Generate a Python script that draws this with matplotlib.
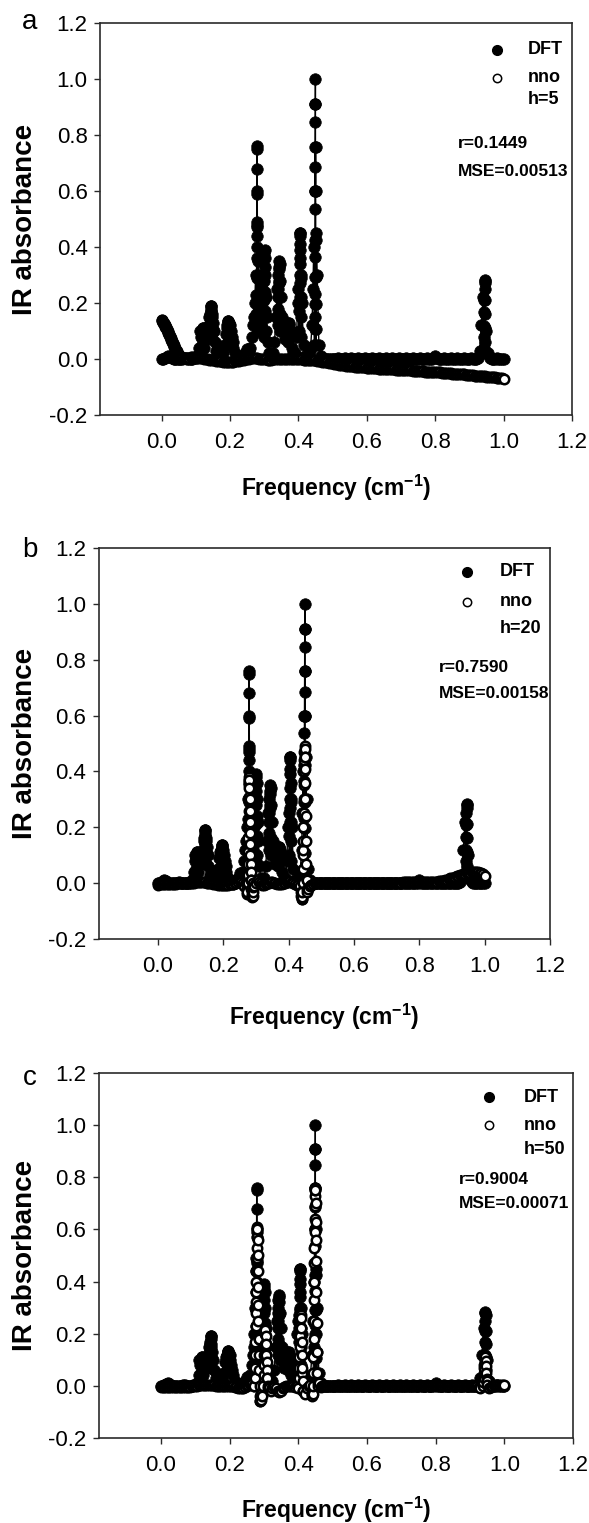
import numpy as np
import matplotlib
matplotlib.use("Agg")
import matplotlib.pyplot as plt
from matplotlib.lines import Line2D

plt.rcParams['font.family'] = ['Liberation Sans', 'DejaVu Sans']
plt.rcParams['mathtext.fontset'] = 'custom'
plt.rcParams['mathtext.rm'] = 'Liberation Sans'
plt.rcParams['mathtext.bf'] = 'Liberation Sans:bold'

# ---------------- data ----------------
freq_grid = [
    0.000, 0.005, 0.010, 0.015, 0.020, 0.025, 0.030, 0.035, 0.040, 0.045,
    0.050, 0.055, 0.060, 0.065, 0.070, 0.075, 0.080, 0.085, 0.090, 0.095,
    0.100, 0.105, 0.110, 0.115, 0.120, 0.125, 0.130, 0.135, 0.140, 0.145,
    0.150, 0.155, 0.160, 0.165, 0.170, 0.175, 0.180, 0.185, 0.190, 0.195,
    0.200, 0.205, 0.210, 0.215, 0.220, 0.225, 0.230, 0.235, 0.240, 0.245,
    0.250, 0.255, 0.260, 0.265, 0.270, 0.275, 0.280, 0.285, 0.290, 0.295,
    0.300, 0.305, 0.310, 0.315, 0.320, 0.325, 0.330, 0.335, 0.340, 0.345,
    0.350, 0.355, 0.360, 0.365, 0.370, 0.375, 0.380, 0.385, 0.390, 0.395,
    0.400, 0.405, 0.410, 0.415, 0.420, 0.425, 0.430, 0.435, 0.440, 0.445,
    0.450, 0.455, 0.460, 0.465, 0.470, 0.475, 0.480, 0.485, 0.490, 0.495,
    0.500, 0.505, 0.510, 0.515, 0.520, 0.525, 0.530, 0.535, 0.540, 0.545,
    0.550, 0.555, 0.560, 0.565, 0.570, 0.575, 0.580, 0.585, 0.590, 0.595,
    0.600, 0.605, 0.610, 0.615, 0.620, 0.625, 0.630, 0.635, 0.640, 0.645,
    0.650, 0.655, 0.660, 0.665, 0.670, 0.675, 0.680, 0.685, 0.690, 0.695,
    0.700, 0.705, 0.710, 0.715, 0.720, 0.725, 0.730, 0.735, 0.740, 0.745,
    0.750, 0.755, 0.760, 0.765, 0.770, 0.775, 0.780, 0.785, 0.790, 0.795,
    0.800, 0.805, 0.810, 0.815, 0.820, 0.825, 0.830, 0.835, 0.840, 0.845,
    0.850, 0.855, 0.860, 0.865, 0.870, 0.875, 0.880, 0.885, 0.890, 0.895,
    0.900, 0.905, 0.910, 0.915, 0.920, 0.925, 0.930, 0.935, 0.940, 0.945,
    0.950, 0.955, 0.960, 0.965, 0.970, 0.975, 0.980, 0.985, 0.990, 0.995,
    1.000,
]

dft_grid = [
    0.000, 0.000, 0.002, 0.006, 0.010, 0.006, 0.002, 0.000, 0.000, 0.000,
    0.000, 0.000, 0.001, 0.004, 0.002, 0.000, 0.000, 0.000, 0.001, 0.002,
    0.004, 0.010, 0.040, 0.080, 0.110, 0.100, 0.070, 0.090, 0.150, 0.190,
    0.130, 0.060, 0.030, 0.040, 0.045, 0.030, 0.020, 0.050, 0.110, 0.135,
    0.120, 0.080, 0.040, 0.020, 0.010, 0.000, -0.003, 0.002, 0.010, 0.020,
    0.035, 0.030, 0.040, 0.080, 0.150, 0.300, 0.480, 0.300, 0.120, 0.200,
    0.380, 0.220, 0.060, 0.020, 0.005, 0.020, 0.060, 0.150, 0.300, 0.340,
    0.220, 0.100, 0.070, 0.100, 0.130, 0.100, 0.040, 0.020, 0.020, 0.080,
    0.250, 0.450, 0.200, 0.050, 0.010, 0.000, 0.010, 0.030, 0.120, 0.400,
    0.600, 0.300, 0.050, 0.010, 0.002, 0.001, 0.000, 0.000, 0.000, 0.000,
    0.000, 0.001, 0.000, 0.002, 0.000, 0.001, 0.000, 0.002, 0.000, 0.001,
    0.000, 0.002, 0.000, 0.001, 0.000, 0.002, 0.000, 0.001, 0.000, 0.002,
    0.000, 0.001, 0.000, 0.002, 0.000, 0.001, 0.000, 0.002, 0.000, 0.001,
    0.000, 0.002, 0.000, 0.001, 0.000, 0.002, 0.000, 0.001, 0.000, 0.002,
    0.000, 0.001, 0.000, 0.002, 0.000, 0.001, 0.000, 0.002, 0.000, 0.001,
    0.000, 0.002, 0.000, 0.001, 0.000, 0.002, 0.000, 0.001, 0.000, 0.002,
    0.010, 0.002, 0.000, 0.001, 0.000, 0.002, 0.000, 0.001, 0.000, 0.002,
    0.000, 0.001, 0.000, 0.002, 0.000, 0.001, 0.000, 0.002, 0.000, 0.001,
    0.000, 0.002, 0.000, 0.001, 0.000, 0.005, 0.030, 0.120, 0.220, 0.280,
    0.100, 0.020, 0.005, 0.000, 0.001, 0.000, 0.002, 0.000, 0.001, 0.000,
    0.000,
]

# narrow DFT peaks: extra samples read along each peak column
dft_peak_x = [
    0.1180, 0.1190, 0.1200, 0.1210, 0.1220, 0.1230,
    0.1430, 0.1437, 0.1443, 0.1450, 0.1455, 0.1462, 0.1468, 0.1475,
    0.1930, 0.1940, 0.1950, 0.1960, 0.1970, 0.1980,
    0.2768, 0.2772, 0.2776, 0.2779, 0.2782, 0.2785, 0.2788, 0.2790,
    0.2792, 0.2794, 0.2797, 0.2800, 0.2803, 0.2806, 0.2810, 0.2815,
    0.2990, 0.2995, 0.3000, 0.3005, 0.3010, 0.3015, 0.3020, 0.3025,
    0.3030, 0.3035, 0.3040,
    0.3400, 0.3405, 0.3410, 0.3415, 0.3420, 0.3425, 0.3430, 0.3435,
    0.3440, 0.3445, 0.3450, 0.3460,
    0.3690, 0.3705, 0.3720, 0.3735, 0.3750,
    0.4025, 0.4029, 0.4033, 0.4037, 0.4041, 0.4045, 0.4049, 0.4052,
    0.4055, 0.4058, 0.4062, 0.4066, 0.4070, 0.4075, 0.4080,
    0.4470, 0.4472, 0.4474, 0.4476, 0.4478, 0.4480, 0.4482, 0.4484,
    0.4486, 0.4488, 0.4490, 0.4492, 0.4494, 0.4496, 0.4498,
    0.4500, 0.4502, 0.4504, 0.4506, 0.4508, 0.4510, 0.4512, 0.4515,
    0.9420, 0.9425, 0.9430, 0.9435, 0.9440, 0.9445, 0.9450,
    0.9453, 0.9456, 0.9460, 0.9464, 0.9468, 0.9472,
]
dft_peak_y = [
    0.05, 0.08, 0.11, 0.10, 0.07, 0.04,
    0.10, 0.14, 0.17, 0.19, 0.18, 0.15, 0.11, 0.07,
    0.06, 0.10, 0.135, 0.13, 0.10, 0.07,
    0.16, 0.23, 0.29, 0.36, 0.44, 0.49, 0.59, 0.68,
    0.76, 0.75, 0.60, 0.47, 0.40, 0.29, 0.19, 0.10,
    0.08, 0.15, 0.21, 0.28, 0.33, 0.39, 0.36, 0.30,
    0.24, 0.17, 0.10,
    0.12, 0.18, 0.22, 0.25, 0.28, 0.33, 0.35, 0.32,
    0.27, 0.22, 0.16, 0.10,
    0.06, 0.10, 0.13, 0.12, 0.08,
    0.10, 0.17, 0.22, 0.27, 0.30, 0.34, 0.39, 0.41,
    0.45, 0.44, 0.36, 0.29, 0.22, 0.15, 0.08,
    0.05, 0.107, 0.149, 0.197, 0.233, 0.292, 0.364, 0.424,
    0.537, 0.600, 0.686, 0.758, 0.847, 0.910, 1.000,
    0.910, 0.758, 0.600, 0.424, 0.292, 0.197, 0.107, 0.050,
    0.04, 0.08, 0.119, 0.167, 0.209, 0.250, 0.283,
    0.270, 0.210, 0.160, 0.110, 0.060, 0.020,
]
# dense shoulders around the peak groups (solid black blocks in the figure)
dft_fill_x = [
    0.1125, 0.1175, 0.1225, 0.1275, 0.1325, 0.1375, 0.1425, 0.1475, 0.1525,
    0.1875, 0.1925, 0.1975, 0.2025, 0.2075,
    0.2675, 0.2725, 0.2825, 0.2875, 0.2925, 0.2975, 0.3075,
    0.3375, 0.3475, 0.3525, 0.3575, 0.3625, 0.3675, 0.3775,
    0.3975, 0.4075, 0.4425, 0.4525,
]
dft_fill_y = [
    0.10, 0.09, 0.09, 0.10, 0.11, 0.12, 0.16, 0.16, 0.10,
    0.09, 0.12, 0.12, 0.10, 0.06,
    0.12, 0.20, 0.35, 0.20, 0.25, 0.30, 0.15,
    0.25, 0.28, 0.15, 0.10, 0.10, 0.12, 0.10,
    0.20, 0.30, 0.25, 0.45,
]

# nno prediction, h = 5
nno_h5 = [
    0.140, 0.130, 0.120, 0.106, 0.092, 0.078, 0.064, 0.050, 0.036, 0.024,
    0.014, 0.008, 0.005, 0.004, 0.004, 0.004, 0.005, 0.006, 0.006, 0.006,
    0.006, 0.005, 0.004, 0.003, 0.002, 0.001, 0.000, -0.001, -0.002, -0.003,
    -0.004, -0.005, -0.006, -0.007, -0.008, -0.008, -0.009, -0.009, -0.010, -0.010,
    -0.010, -0.010, -0.009, -0.008, -0.007, -0.006, -0.004, -0.003, -0.002, -0.001,
    0.000, 0.001, 0.002, 0.002, 0.002, 0.002, 0.002, 0.001, 0.000, 0.000,
    0.000, -0.001, -0.002, -0.002, -0.002, -0.001, 0.000, 0.000, 0.000, 0.000,
    0.000, 0.000, 0.000, 0.000, -0.001, -0.001, -0.001, -0.001, -0.001, -0.001,
    -0.001, -0.001, -0.001, -0.002, -0.002, -0.003, -0.003, -0.004, -0.004, -0.005,
    -0.005, -0.006, -0.007, -0.008, -0.009, -0.010, -0.011, -0.012, -0.013, -0.015,
    -0.016, -0.017, -0.018, -0.019, -0.020, -0.021, -0.022, -0.023, -0.024, -0.024,
    -0.025, -0.026, -0.026, -0.027, -0.027, -0.028, -0.029, -0.029, -0.030, -0.030,
    -0.031, -0.031, -0.032, -0.032, -0.033, -0.033, -0.033, -0.034, -0.034, -0.035,
    -0.035, -0.035, -0.036, -0.036, -0.037, -0.037, -0.037, -0.038, -0.038, -0.039,
    -0.039, -0.039, -0.040, -0.040, -0.041, -0.041, -0.041, -0.042, -0.042, -0.043,
    -0.043, -0.043, -0.044, -0.044, -0.045, -0.045, -0.045, -0.046, -0.046, -0.047,
    -0.047, -0.047, -0.048, -0.048, -0.049, -0.049, -0.050, -0.050, -0.051, -0.051,
    -0.052, -0.052, -0.053, -0.053, -0.054, -0.054, -0.055, -0.055, -0.056, -0.056,
    -0.057, -0.057, -0.058, -0.059, -0.059, -0.060, -0.060, -0.061, -0.062, -0.062,
    -0.063, -0.064, -0.064, -0.065, -0.066, -0.066, -0.067, -0.068, -0.068, -0.069,
    -0.070,
]
# extra samples along the steep start of the h=5 curve
nno_h5_extra_x = [
    0.0012, 0.0025, 0.0037, 0.0063, 0.0075, 0.0087, 0.0112, 0.0125, 0.0137,
    0.0162, 0.0175, 0.0187, 0.0212, 0.0225, 0.0237, 0.0262, 0.0275, 0.0287,
    0.0312, 0.0325, 0.0337, 0.0362, 0.0375, 0.0387, 0.0412, 0.0425, 0.0437,
    0.0462, 0.0475, 0.0487, 0.0525, 0.0575,
]
nno_h5_extra_y = [
    0.138, 0.135, 0.133, 0.128, 0.125, 0.123, 0.116, 0.113, 0.110,
    0.102, 0.099, 0.095, 0.088, 0.085, 0.081, 0.074, 0.071, 0.067,
    0.060, 0.057, 0.053, 0.046, 0.043, 0.039, 0.033, 0.030, 0.027,
    0.021, 0.019, 0.016, 0.011, 0.006,
]

# nno prediction, h = 20
nno_h20 = [
    -0.005, -0.004, -0.003, -0.003, -0.002, -0.002, -0.002, -0.002, -0.002, -0.002,
    -0.002, -0.002, -0.001, -0.001, -0.001, -0.001, 0.000, 0.000, 0.000, 0.000,
    0.000, 0.001, 0.002, 0.003, 0.003, 0.004, 0.004, 0.004, 0.004, 0.003,
    0.002, 0.001, 0.000, -0.001, -0.002, -0.003, -0.004, -0.005, -0.006, -0.006,
    -0.007, -0.007, -0.006, -0.005, -0.004, -0.003, -0.002, 0.000, 0.002, 0.004,
    0.006, 0.004, 0.000, -0.010, 0.000, 0.000, 0.370, 0.010, -0.045, -0.010,
    0.000, 0.010, 0.005, 0.000, -0.005, -0.005, -0.003, 0.000, 0.002, 0.003,
    0.003, 0.002, 0.000, -0.002, -0.003, -0.003, -0.002, 0.000, 0.002, 0.004,
    0.005, 0.006, 0.004, 0.000, -0.003, -0.006, -0.008, -0.010, -0.055, 0.120,
    0.450, 0.010, -0.020, -0.010, -0.005, -0.002, 0.000, 0.001, 0.002, 0.002,
    0.002, 0.002, 0.002, 0.002, 0.002, 0.002, 0.002, 0.002, 0.002, 0.002,
    0.002, 0.002, 0.002, 0.002, 0.002, 0.002, 0.002, 0.002, 0.002, 0.002,
    0.002, 0.002, 0.002, 0.002, 0.002, 0.002, 0.002, 0.002, 0.002, 0.002,
    0.002, 0.002, 0.002, 0.002, 0.002, 0.002, 0.002, 0.002, 0.002, 0.002,
    0.002, 0.002, 0.002, 0.002, 0.002, 0.002, 0.002, 0.002, 0.002, 0.002,
    0.003, 0.003, 0.003, 0.003, 0.003, 0.003, 0.003, 0.003, 0.003, 0.003,
    0.003, 0.003, 0.003, 0.003, 0.003, 0.004, 0.004, 0.004, 0.004, 0.004,
    0.004, 0.005, 0.006, 0.007, 0.008, 0.009, 0.011, 0.013, 0.015, 0.017,
    0.018, 0.020, 0.022, 0.024, 0.026, 0.028, 0.030, 0.032, 0.034, 0.036,
    0.037, 0.038, 0.039, 0.040, 0.040, 0.040, 0.039, 0.038, 0.036, 0.033,
    0.025,
]
nno_h20_peak_x = [
    0.2710, 0.2720, 0.2730, 0.2740, 0.2750, 0.2755, 0.2760, 0.2765, 0.2770, 0.2775,
    0.2780, 0.2785, 0.2790, 0.2795, 0.2800, 0.2805, 0.2810, 0.2815, 0.2820, 0.2825,
    0.2830, 0.2835, 0.2840, 0.2845, 0.2850, 0.2860, 0.2870, 0.2880, 0.2890, 0.2900,
    0.2910, 0.2920,
    0.4380, 0.4390, 0.4400, 0.4410, 0.4420, 0.4430, 0.4440, 0.4445, 0.4450, 0.4455,
    0.4460, 0.4465, 0.4470, 0.4475, 0.4480, 0.4485, 0.4490, 0.4495, 0.4500, 0.4505,
    0.4510, 0.4515, 0.4520, 0.4530, 0.4540, 0.4550, 0.4560, 0.4570,
]
nno_h20_peak_y = [
    0.000, -0.020, -0.040, -0.030, 0.000, 0.030, 0.070, 0.110, 0.160, 0.210,
    0.260, 0.310, 0.350, 0.380, 0.370, 0.340, 0.300, 0.260, 0.220, 0.180,
    0.140, 0.100, 0.070, 0.040, 0.010, -0.020, -0.040, -0.050, -0.045, -0.030,
    -0.015, 0.000,
    -0.030, -0.045, -0.055, -0.050, -0.030, 0.000, 0.050, 0.100, 0.150, 0.200,
    0.250, 0.300, 0.350, 0.400, 0.440, 0.470, 0.490, 0.480, 0.450, 0.410,
    0.360, 0.300, 0.240, 0.150, 0.070, 0.010, -0.020, -0.030,
]

# nno prediction, h = 50
nno_h50 = [
    -0.004, -0.004, -0.003, -0.003, -0.003, -0.003, -0.003, -0.003, -0.003, -0.003,
    -0.004, -0.004, -0.005, -0.005, -0.005, -0.004, -0.004, -0.003, -0.002, -0.001,
    0.000, 0.001, 0.002, 0.002, 0.002, 0.002, 0.002, 0.003, 0.004, 0.004,
    0.003, 0.002, 0.001, 0.000, -0.001, -0.002, -0.002, -0.001, 0.000, 0.001,
    0.001, 0.000, -0.002, -0.004, -0.006, -0.008, -0.010, -0.010, -0.008, -0.005,
    0.000, 0.004, 0.006, 0.008, 0.000, 0.120, 0.570, 0.180, -0.060, -0.040,
    0.080, 0.120, 0.030, -0.010, -0.020, -0.010, -0.005, -0.010, -0.020, -0.025,
    -0.020, -0.010, -0.005, 0.000, 0.000, 0.000, 0.000, -0.002, -0.005, 0.000,
    0.070, 0.200, 0.050, -0.020, -0.030, -0.010, 0.000, 0.005, -0.030, 0.250,
    0.750, 0.130, 0.010, -0.005, -0.002, 0.000, 0.000, 0.000, 0.000, 0.000,
    0.000, 0.000, 0.000, 0.000, 0.000, 0.000, 0.000, 0.000, 0.000, 0.000,
    0.000, 0.000, 0.000, 0.000, 0.000, 0.000, 0.000, 0.000, 0.000, 0.000,
    0.000, 0.000, 0.000, 0.000, 0.000, 0.000, 0.000, 0.000, 0.000, 0.000,
    0.000, 0.000, 0.000, 0.000, 0.000, 0.000, 0.000, 0.000, 0.000, 0.000,
    0.000, 0.000, 0.000, 0.000, 0.000, 0.000, 0.000, 0.000, 0.000, 0.000,
    0.000, 0.000, 0.000, 0.000, 0.000, 0.000, 0.000, 0.000, 0.000, 0.000,
    0.000, 0.000, 0.000, 0.000, 0.000, 0.000, 0.000, 0.000, 0.000, 0.000,
    0.000, 0.000, 0.000, 0.000, 0.000, 0.000, 0.000, 0.000, 0.000, 0.000,
    0.000, 0.000, 0.000, 0.000, 0.000, -0.005, -0.010, 0.030, 0.080, 0.100,
    0.020, -0.010, -0.005, 0.000, 0.002, 0.003, 0.004, 0.005, 0.005, 0.005,
    0.005,
]
nno_h50_peak_x = [
    0.2720, 0.2730, 0.2740, 0.2750, 0.2755, 0.2760, 0.2765, 0.2770, 0.2775, 0.2780,
    0.2785, 0.2790, 0.2795, 0.2800, 0.2805, 0.2810, 0.2815, 0.2820, 0.2825, 0.2830,
    0.2835, 0.2840, 0.2850, 0.2860, 0.2870, 0.2880, 0.2890, 0.2900, 0.2910, 0.2920,
    0.2980, 0.2990, 0.3000, 0.3010, 0.3020, 0.3030, 0.3040, 0.3050, 0.3060, 0.3070,
    0.3080, 0.3090, 0.3100, 0.3110, 0.3120,
    0.4000, 0.4010, 0.4020, 0.4030, 0.4040, 0.4050, 0.4060, 0.4070, 0.4080, 0.4090,
    0.4100, 0.4110, 0.4120, 0.4130, 0.4140,
    0.4400, 0.4410, 0.4420, 0.4430, 0.4435, 0.4440, 0.4445, 0.4450, 0.4455, 0.4460,
    0.4465, 0.4470, 0.4475, 0.4480, 0.4485, 0.4490, 0.4495, 0.4500, 0.4505, 0.4510,
    0.4515, 0.4520, 0.4530, 0.4540, 0.4550, 0.4560, 0.4570, 0.4580,
    0.9380, 0.9390, 0.9400, 0.9410, 0.9420, 0.9430, 0.9440, 0.9450, 0.9460, 0.9470,
    0.9480, 0.9490, 0.9500,
]
nno_h50_peak_y = [
    0.000, 0.030, 0.070, 0.120, 0.170, 0.230, 0.280, 0.320, 0.360, 0.400,
    0.440, 0.490, 0.530, 0.570, 0.610, 0.600, 0.560, 0.500, 0.440, 0.380,
    0.310, 0.250, 0.180, 0.120, 0.060, 0.000, -0.040, -0.060, -0.055, -0.030,
    0.000, 0.040, 0.080, 0.120, 0.160, 0.200, 0.215, 0.190, 0.160, 0.120,
    0.090, 0.060, 0.030, 0.000, -0.010,
    -0.010, 0.030, 0.070, 0.110, 0.150, 0.190, 0.230, 0.270, 0.260, 0.220,
    0.170, 0.120, 0.070, 0.020, -0.020,
    -0.030, -0.040, -0.030, 0.000, 0.050, 0.110, 0.180, 0.250, 0.330, 0.400,
    0.470, 0.530, 0.590, 0.640, 0.690, 0.730, 0.760, 0.750, 0.700, 0.630,
    0.560, 0.480, 0.360, 0.240, 0.130, 0.050, 0.010, 0.000,
    0.000, 0.015, 0.030, 0.050, 0.070, 0.090, 0.105, 0.110, 0.095, 0.075,
    0.050, 0.025, 0.005,
]

panel_letters = ['a', 'b', 'c']
panel_h = ['h=5', 'h=20', 'h=50']
panel_r = ['r=0.1449', 'r=0.7590', 'r=0.9004']
panel_mse = ['MSE=0.00513', 'MSE=0.00158', 'MSE=0.00071']
x_ticks = [0.0, 0.2, 0.4, 0.6, 0.8, 1.0, 1.2]
y_ticks = [-0.2, 0.0, 0.2, 0.4, 0.6, 0.8, 1.0, 1.2]


def merged(gx, gy, *extra):
    xs = [np.asarray(gx, float)]
    ys = [np.asarray(gy, float)]
    for k in range(0, len(extra), 2):
        xs.append(np.asarray(extra[k], float))
        ys.append(np.asarray(extra[k + 1], float))
    x = np.concatenate(xs)
    y = np.concatenate(ys)
    o = np.argsort(x, kind='stable')
    return x[o], y[o]


dft_x, dft_y = merged(freq_grid, dft_grid, dft_peak_x, dft_peak_y, dft_fill_x, dft_fill_y)
nno_series = [
    merged(freq_grid, nno_h5, nno_h5_extra_x, nno_h5_extra_y),
    merged(freq_grid, nno_h20, nno_h20_peak_x, nno_h20_peak_y),
    merged(freq_grid, nno_h50, nno_h50_peak_x, nno_h50_peak_y),
]

# ---------------- layout (pixels) ----------------
W, H = 589, 1523
fig = plt.figure(figsize=(W / 100, H / 100), dpi=100)


def fx(px):
    return px / W


def fy(py):
    return 1 - py / H


# left, top, right, bottom in pixels
boxes = [(100, 23, 572, 415), (99, 548, 550, 939), (99, 1073, 573, 1438)]
letter_pos = [(30, 22), (30, 550), (30, 1078)]
leg_marker_x = [497, 467, 489]
leg_text_x = [528, 500, 524]
leg_rows = [(50, 78, 99), (572, 602, 628), (1097, 1125, 1150)]
stat_pos = [(458, 144, 172), (439, 668, 694), (459, 1179, 1203)]
xlabel_off = [73, 78, 72]

spine_col = '#2a2a2a'
bold_txt = dict(fontweight='bold')

for i in range(3):
    l, t, r, b = boxes[i]
    ax = fig.add_axes([fx(l), fy(b), (r - l) / W, (b - t) / H])
    ax.plot(dft_x, dft_y, color='black', lw=1.0, marker='o', ms=8.3,
            mfc='black', mec='black', mew=0.5, zorder=2)
    nx, ny = nno_series[i]
    ax.plot(nx, ny, color='black', lw=0.8, marker='o', ms=6.8,
            mfc='white', mec='black', mew=1.8, zorder=3)
    ax.set_xlim(-0.18, 1.2)
    ax.set_ylim(-0.2, 1.2)
    ax.set_xticks(x_ticks)
    ax.set_yticks(y_ticks)
    ax.set_xticklabels([f'{v:.1f}' for v in x_ticks])
    ax.set_yticklabels([f'{v:.1f}' for v in y_ticks])
    ax.tick_params(direction='out', length=4, width=1.0, color=spine_col,
                   labelsize=16, top=False, right=False)
    ax.tick_params(axis='x', pad=8)
    ax.tick_params(axis='y', pad=5)
    for s in ax.spines.values():
        s.set_color(spine_col)
        s.set_linewidth(1.2)
    ax.set_ylabel('IR absorbance', fontsize=20, fontweight='bold')
    ax.yaxis.set_label_coords(-(l - 25) / (r - l), 0.5)
    ax.yaxis.label.set_va('center')
    ax.set_xlabel(r'Frequency (cm$^{\mathbf{-1}}$)', fontsize=16.5, **bold_txt)
    ax.xaxis.set_label_coords(0.5, -xlabel_off[i] / (b - t))
    ax.xaxis.label.set_va('center')

    # panel letter
    fig.text(fx(letter_pos[i][0]), fy(letter_pos[i][1]), panel_letters[i],
             fontsize=20, ha='center', va='center')
    # legend-like annotations
    y1, y2, y3 = leg_rows[i]
    fig.add_artist(Line2D([fx(leg_marker_x[i])], [fy(y1)], transform=fig.transFigure,
                          marker='o', ms=7.0, mfc='black', mec='black', ls='none'))
    fig.add_artist(Line2D([fx(leg_marker_x[i])], [fy(y2)], transform=fig.transFigure,
                          marker='o', ms=6.0, mfc='white', mec='black', mew=1.1, ls='none'))
    fig.text(fx(leg_text_x[i]), fy(y1), 'DFT', fontsize=13, ha='left', va='center', **bold_txt)
    fig.text(fx(leg_text_x[i]), fy(y2), 'nno', fontsize=13, ha='left', va='center', **bold_txt)
    fig.text(fx(leg_text_x[i]), fy(y3), panel_h[i], fontsize=13, ha='left', va='center', **bold_txt)
    sx, sy1, sy2 = stat_pos[i]
    fig.text(fx(sx), fy(sy1), panel_r[i], fontsize=12.5, ha='left', va='center', **bold_txt)
    fig.text(fx(sx), fy(sy2), panel_mse[i], fontsize=12.5, ha='left', va='center', **bold_txt)

fig.savefig('out.png', dpi=100, facecolor='white')
